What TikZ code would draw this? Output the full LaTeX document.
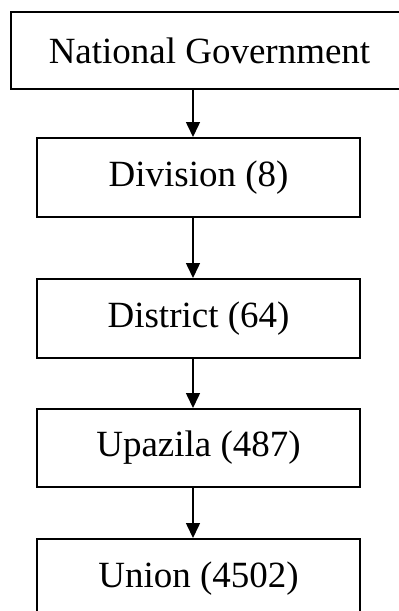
\documentclass[tikz,border=0pt]{standalone}
\usepackage{fontspec}
\setmainfont{Liberation Serif}
\usepackage{tikz}
\usetikzlibrary{arrows.meta}

\begin{document}
\begin{tikzpicture}[x=0.025cm, y=-0.025cm,
		tier/.style={draw, line width=1.4pt, minimum width=8.075cm, minimum height=1.975cm,
			inner sep=0pt, font=\fontsize{26.3}{31}\selectfont},
		down/.style={line width=1.1pt, -{Triangle[width=0.35cm, length=0.375cm]}}]
		% Frame and clipping:
		\useasboundingbox (0, 0) rectangle (399, 611);
		\clip (0, 0) rectangle (399, 611);
		% Levels:
		\node[tier, minimum width=9.925cm, minimum height=1.925cm] (govt) at (209.5, 50.5) {National Government};
		\node[tier] (division) at (198.5, 177.5) {Division (8)};
		\node[tier] (district) at (198.5, 318.5) {District (64)};
		\node[tier, minimum height=1.95cm] (upazila) at (198.5, 448) {Upazila (487)};
		\node[tier] (union) at (198.5, 578.5) {Union (4502)};
		% Arrows down the chain:
		\coordinate (spine) at (193, 0);
		\draw[down] (govt.south -| spine) -- (division.north -| spine);
		\draw[down] (division.south -| spine) -- (district.north -| spine);
		\draw[down] (district.south -| spine) -- (upazila.north -| spine);
		\draw[down] (upazila.south -| spine) -- (union.north -| spine);
	\end{tikzpicture}
\end{document}
